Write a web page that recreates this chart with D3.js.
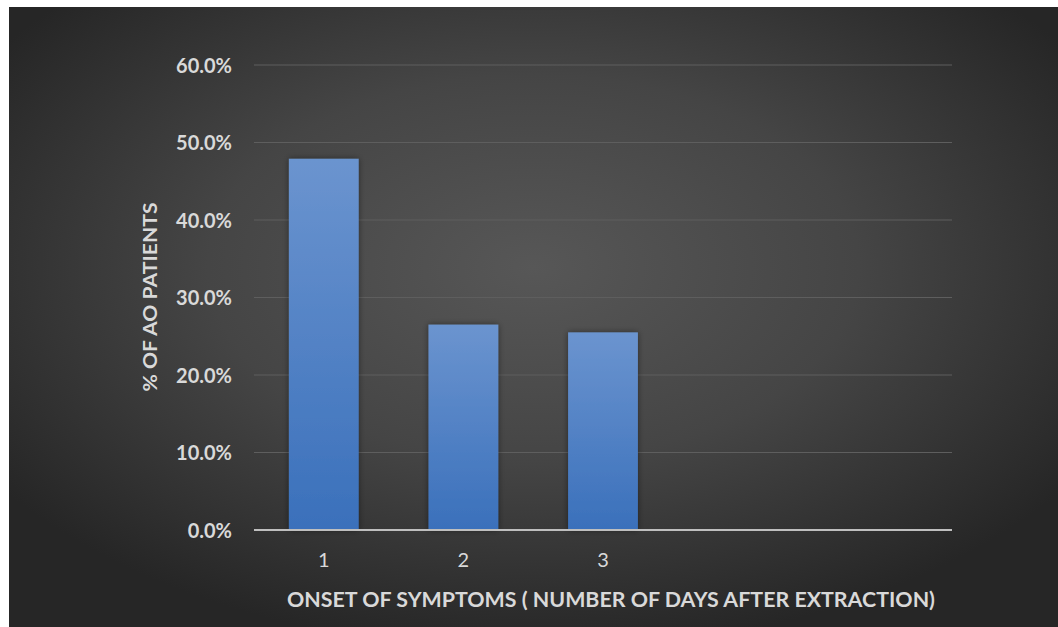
<!DOCTYPE html>
<html>
<head>
<meta charset="utf-8">
<script src="https://cdn.jsdelivr.net/npm/d3@7"></script>
<style>
  html, body { margin: 0; padding: 0; background: #ffffff; }
  svg { display: block; }
</style>
</head>
<body>
<div id="chart"></div>
<script>
// Onset of symptoms after extraction, share of AO patients per day
const categories = ["1", "2", "3", "", " "];
const values = [0.479, 0.265, 0.255, null, null];
const yTicks = [0, 0.1, 0.2, 0.3, 0.4, 0.5, 0.6];
const yTitle = "% OF AO PATIENTS";
const xTitle = "ONSET OF SYMPTOMS ( NUMBER OF DAYS AFTER EXTRACTION)";

const W = 1058, H = 627;
const plot = { left: 254, right: 952, top: 65, bottom: 530 };
const font = "Lato, 'Open Sans', sans-serif";

const svg = d3.select("#chart").append("svg")
  .attr("width", W).attr("height", H);

const defs = svg.append("defs");
const bg = defs.append("radialGradient").attr("id", "bg")
  .attr("cx", "50%").attr("cy", "42%").attr("r", "62%");
bg.append("stop").attr("offset", "0%").attr("stop-color", "#575757");
bg.append("stop").attr("offset", "50%").attr("stop-color", "#454545");
bg.append("stop").attr("offset", "100%").attr("stop-color", "#262626");

const barGrad = defs.append("linearGradient").attr("id", "barGrad")
  .attr("x1", 0).attr("y1", 0).attr("x2", 0).attr("y2", 1);
barGrad.append("stop").attr("offset", "0%").attr("stop-color", "#6b94cf");
barGrad.append("stop").attr("offset", "100%").attr("stop-color", "#3a70bb");

const shadow = defs.append("filter").attr("id", "glow")
  .attr("x", "-30%").attr("y", "-10%").attr("width", "160%").attr("height", "120%");
shadow.append("feGaussianBlur").attr("in", "SourceAlpha").attr("stdDeviation", 3).attr("result", "b");
shadow.append("feComponentTransfer").attr("in", "b").attr("result", "s")
  .append("feFuncA").attr("type", "linear").attr("slope", 0.45);
const merge = shadow.append("feMerge");
merge.append("feMergeNode").attr("in", "s");
merge.append("feMergeNode").attr("in", "SourceGraphic");

// chart area background
svg.append("rect").attr("x", 9).attr("y", 7)
  .attr("width", W - 9).attr("height", H - 7)
  .attr("fill", "url(#bg)");

const x = d3.scaleBand().domain(categories)
  .range([plot.left, plot.right])
  .paddingInner(0.5).paddingOuter(0.25);
const y = d3.scaleLinear().domain([0, 0.6]).range([plot.bottom, plot.top]);

// horizontal gridlines
svg.append("g").selectAll("line").data(yTicks.filter(d => d > 0)).join("line")
  .attr("x1", plot.left).attr("x2", plot.right)
  .attr("y1", d => y(d)).attr("y2", d => y(d))
  .attr("stroke", "#5e5e5e").attr("stroke-width", 1);

// bars
svg.append("g").selectAll("rect")
  .data(categories.map((c, i) => ({ c, v: values[i] })).filter(d => d.v != null))
  .join("rect")
  .attr("x", d => x(d.c)).attr("width", x.bandwidth())
  .attr("y", d => y(d.v)).attr("height", d => y(0) - y(d.v))
  .attr("fill", "url(#barGrad)")
  .attr("filter", "url(#glow)");

// baseline
svg.append("line")
  .attr("x1", plot.left).attr("x2", plot.right)
  .attr("y1", y(0)).attr("y2", y(0))
  .attr("stroke", "#bfbfbf").attr("stroke-width", 2);

// y tick labels
const yAxis = d3.axisLeft(y).tickValues(yTicks)
  .tickFormat(d3.format(".1%")).tickSize(0).tickPadding(0);
const gy = svg.append("g").attr("transform", `translate(232,0)`).call(yAxis);
gy.select(".domain").remove();
gy.selectAll("text")
  .attr("fill", "#d9d9d9").attr("font-family", font)
  .attr("font-weight", "bold").attr("font-size", 20).attr("dy", "0.35em");

// x tick labels
const xAxis = d3.axisBottom(x).tickSize(0).tickPadding(0);
const gx = svg.append("g").attr("transform", `translate(0,${plot.bottom})`).call(xAxis);
gx.select(".domain").remove();
gx.selectAll("text")
  .attr("fill", "#d9d9d9").attr("font-family", font)
  .attr("font-size", 20).attr("dy", 0).attr("y", 37);

// axis titles
svg.append("text")
  .attr("transform", `translate(157,297) rotate(-90)`)
  .attr("text-anchor", "middle")
  .attr("fill", "#d9d9d9").attr("font-family", font)
  .attr("font-weight", "bold").attr("font-size", 19)
  .attr("textLength", 189).attr("lengthAdjust", "spacingAndGlyphs")
  .text(yTitle);

svg.append("text")
  .attr("x", 611).attr("y", 607)
  .attr("text-anchor", "middle")
  .attr("fill", "#d9d9d9").attr("font-family", font)
  .attr("font-weight", "bold").attr("font-size", 20)
  .attr("textLength", 648).attr("lengthAdjust", "spacingAndGlyphs")
  .text(xTitle);
</script>
</body>
</html>
